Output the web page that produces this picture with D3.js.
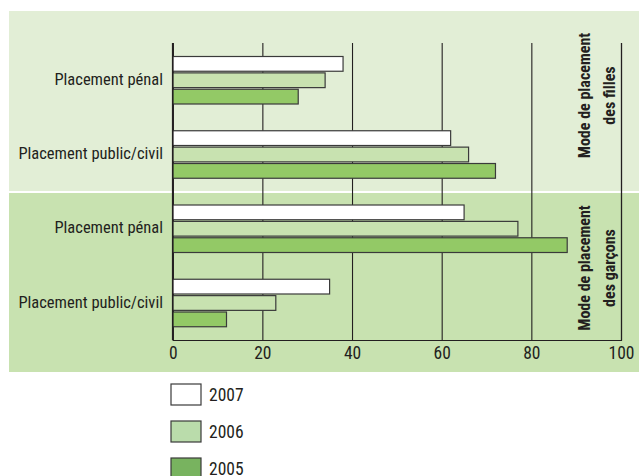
<!DOCTYPE html>
<html>
<head>
<meta charset="utf-8">
<script src="https://cdn.jsdelivr.net/npm/d3@7"></script>
<style>
  body { margin: 0; background: #fff; }
  svg { display: block; }
  text { font-family: "Liberation Sans Narrow", "Roboto Condensed", "Open Sans", sans-serif; fill: #231f20; }
</style>
</head>
<body>
<svg id="chart" width="639" height="476"></svg>
<script>
// ---- data ----
const categories = ["Placement pénal", "Placement public/civil", "Placement pénal ", "Placement public/civil "];
const groups = ["filles", "filles", "garçons", "garçons"];
const years = ["2007", "2006", "2005"];
const values2007 = [38, 62, 65, 35];
const values2006 = [34, 66, 77, 23];
const values2005 = [28, 72, 88, 12];
const xTicks = [0, 20, 40, 60, 80, 100];
const panelLabels = [["Mode de placement", "des filles"], ["Mode de placement", "des garçons"]];

const seriesByYear = { "2007": values2007, "2006": values2006, "2005": values2005 };
const barColors = { "2007": "#ffffff", "2006": "#c8e2b0", "2005": "#93c966" };
const legendColors = { "2007": "#ffffff", "2006": "#badcab", "2005": "#78b35f" };

const svg = d3.select("#chart");

// panels
const panels = [
  { y0: 11, y1: 191, fill: "#e2eed6" },
  { y0: 193, y1: 372, fill: "#c8e2b0" }
];
svg.selectAll("rect.panel").data(panels).join("rect")
  .attr("class", "panel")
  .attr("x", 9).attr("y", d => d.y0)
  .attr("width", 630).attr("height", d => d.y1 - d.y0)
  .attr("fill", d => d.fill);

const x = d3.scaleLinear().domain([0, 100]).range([172.7, 621]);
const y = d3.scaleBand().domain(categories).range([43, 340]);
const yInner = d3.scaleBand().domain(years).range([13.5, 61]).paddingInner(0.1);

// grid
const gridG = svg.append("g").attr("transform", "translate(0,340)")
  .call(d3.axisBottom(x).tickValues(xTicks).tickSize(-(340 - 43)).tickFormat(d => d).tickPadding(8));
gridG.select(".domain").attr("stroke", "#231f20").attr("stroke-width", 1.2);
gridG.selectAll(".tick line").attr("stroke", "#231f20").attr("stroke-width", 1.1);
gridG.selectAll(".tick text").attr("font-size", 17.5).attr("fill", "#231f20")
  .attr("font-family", "'Open Sans', sans-serif").attr("dy", "0.6em");

// bars
const rows = categories.map((c, i) => ({ c, i }));
const rowG = svg.selectAll("g.row").data(rows).join("g")
  .attr("class", "row")
  .attr("transform", d => `translate(0,${y(d.c)})`);
rowG.selectAll("rect").data(d => years.map(yr => ({ yr, v: seriesByYear[yr][d.i] }))).join("rect")
  .attr("x", x(0))
  .attr("y", d => yInner(d.yr))
  .attr("width", d => x(d.v) - x(0))
  .attr("height", yInner.bandwidth())
  .attr("fill", d => barColors[d.yr])
  .attr("stroke", "#3a3a3a")
  .attr("stroke-width", 1.2);

// category labels
rowG.append("text")
  .attr("x", 163)
  .attr("y", y.bandwidth() / 2 - 1)
  .attr("dy", "0.35em")
  .attr("text-anchor", "end")
  .attr("font-size", 16.5)
  .text(d => d.c.trim());

// y axis line at 0
svg.append("line").attr("x1", x(0)).attr("x2", x(0)).attr("y1", 43).attr("y2", 340)
  .attr("stroke", "#231f20").attr("stroke-width", 1.6);

// panel labels (rotated)
const labelCenters = [95.5, 268];
panelLabels.forEach((lines, gi) => {
  const g = svg.append("g").attr("transform", `translate(0,${labelCenters[gi]})`);
  lines.forEach((ln, li) => {
    g.append("text")
      .attr("transform", `translate(${590 + li * 25},0) rotate(-90)`)
      .attr("text-anchor", "middle")
      .attr("font-size", 16)
      .attr("font-weight", "bold")
      .text(ln);
  });
});

// legend
const legendY = [394.5, 431.5, 468.5];
const lg = svg.selectAll("g.legend").data(years).join("g")
  .attr("class", "legend")
  .attr("transform", (d, i) => `translate(171,${legendY[i]})`);
lg.append("rect").attr("x", 0).attr("y", -10.5).attr("width", 30).attr("height", 21)
  .attr("fill", d => legendColors[d]).attr("stroke", "#3a3a3a").attr("stroke-width", 1.2);
lg.append("text").attr("x", 38).attr("y", 0).attr("dy", "0.36em").attr("font-size", 17.5)
  .attr("font-family", "'Open Sans', sans-serif")
  .text(d => d);
</script>
</body>
</html>
